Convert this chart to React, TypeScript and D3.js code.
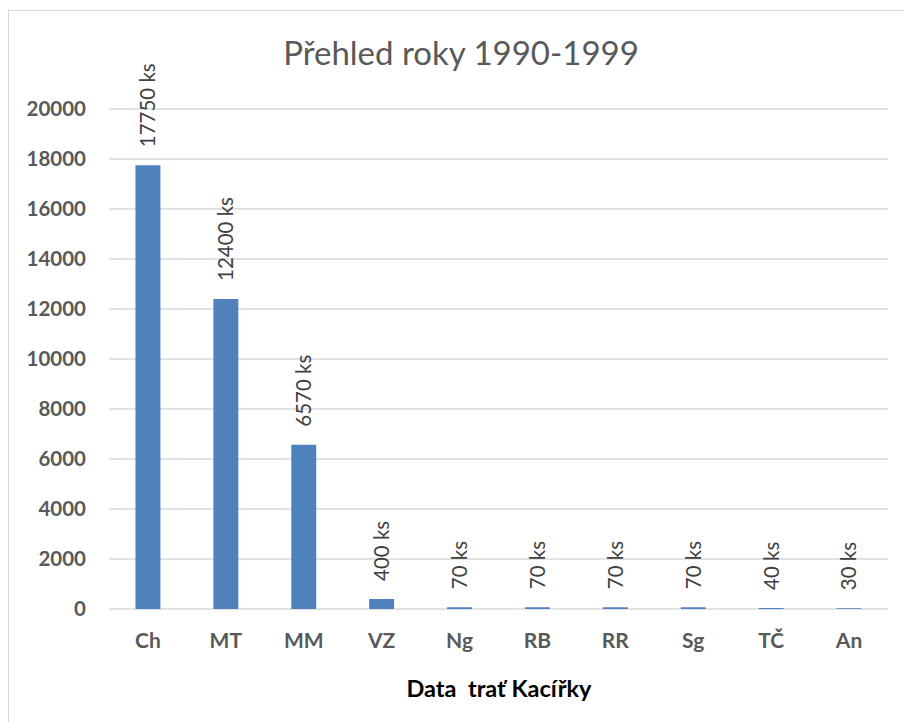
import React from "react";
import * as d3 from "d3";

const categories = ["Ch", "MT", "MM", "VZ", "Ng", "RB", "RR", "Sg", "TČ", "An"];
const values = [17750, 12400, 6570, 400, 70, 70, 70, 70, 40, 30];
const yTicks = [0, 2000, 4000, 6000, 8000, 10000, 12000, 14000, 16000, 18000, 20000];
const title = "Přehled roky 1990-1999";
const xTitle = "Data  trať Kacířky";
const unit = " ks";

const W = 904;
const H = 722;
const FONT = "Lato, 'Open Sans', sans-serif";

export default function App() {
  const x = d3
    .scaleBand<string>()
    .domain(categories)
    .range([109, 888])
    .paddingInner(0.68)
    .paddingOuter(0.34);
  const y = d3.scaleLinear().domain([0, 20000]).range([609, 109]);

  return (
    <svg
      width={W}
      height={H}
      style={{ position: "fixed", left: 0, top: 0, background: "#fff" }}
    >
      <rect x={8.5} y={10.5} width={W + 10} height={H + 10} fill="#fff" stroke="#d9d9d9" strokeWidth={1} />
      <text
        x={461}
        y={65}
        textAnchor="middle"
        fontFamily={FONT}
        fontSize={33}
        fill="#595959"
      >
        {title}
      </text>
      {yTicks.map((t) => (
        <g key={t}>
          <line x1={109} x2={888} y1={y(t)} y2={y(t)} stroke="#d9d9d9" strokeWidth={1.3} />
          <text
            x={86}
            y={y(t)}
            dy="0.36em"
            textAnchor="end"
            fontFamily={FONT}
            fontWeight="bold"
            fontSize={20.5}
            fill="#595959"
          >
            {t}
          </text>
        </g>
      ))}
      {categories.map((c, i) => {
        const bx = x(c)!;
        const bw = x.bandwidth();
        const top = y(values[i]);
        const cx = bx + bw / 2;
        return (
          <g key={c}>
            <rect x={bx} y={top} width={bw} height={y(0) - top} fill="#4f81bd" />
            <text
              transform={`translate(${cx},${top - 18}) rotate(-90)`}
              dy="0.36em"
              textAnchor="start"
              fontFamily={FONT}
              fontSize={20.5}
              fill="#404040"
            >
              {values[i] + unit}
            </text>
            <text
              x={cx}
              y={648}
              textAnchor="middle"
              fontFamily={FONT}
              fontWeight="bold"
              fontSize={21}
              fill="#595959"
            >
              {c}
            </text>
          </g>
        );
      })}
      <text
        x={499}
        y={697}
        textAnchor="middle"
        fontFamily={FONT}
        fontWeight="bold"
        fontSize={23.5}
        fill="#000"
        style={{ whiteSpace: "pre" }}
      >
        {xTitle}
      </text>
    </svg>
  );
}
